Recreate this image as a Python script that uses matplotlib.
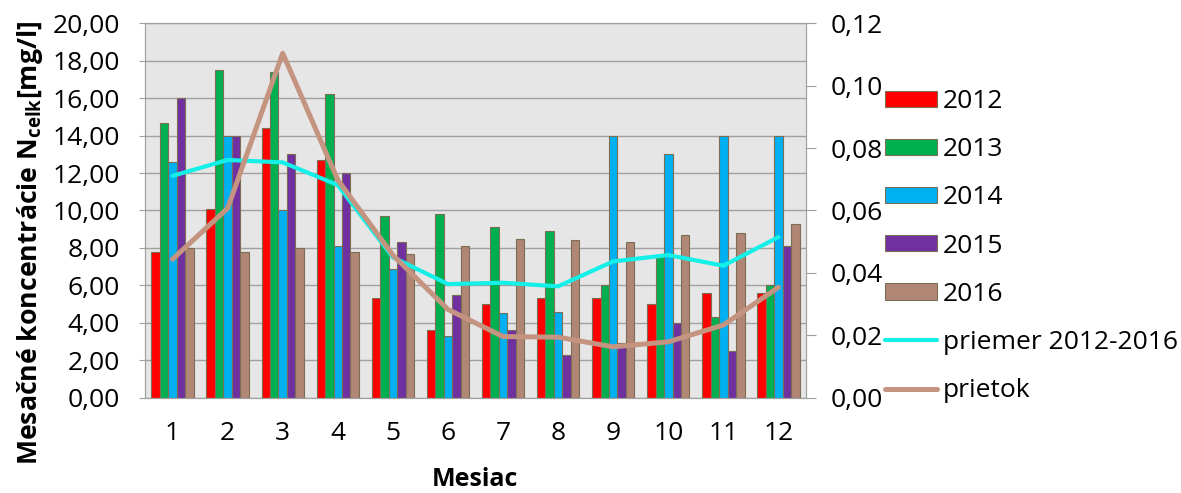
import numpy as np
import matplotlib
matplotlib.use("Agg")
import matplotlib.pyplot as plt

months = ["1", "2", "3", "4", "5", "6", "7", "8", "9", "10", "11", "12"]
years = ["2012", "2013", "2014", "2015", "2016"]

n2012 = [7.8, 10.1, 14.4, 12.7, 5.3, 3.6, 5.0, 5.35, 5.3, 5.0, 5.6, 5.6]
n2013 = [14.7, 17.5, 17.4, 16.2, 9.7, 9.8, 9.1, 8.9, 6.0, 7.5, 4.3, 6.0]
n2014 = [12.6, 14.0, 10.0, 8.1, 6.9, 3.3, 4.5, 4.6, 14.0, 13.0, 14.0, 14.0]
n2015 = [16.0, 14.0, 13.0, 12.0, 8.3, 5.5, 3.6, 2.3, 2.9, 4.0, 2.5, 8.1]
n2016 = [8.0, 7.8, 8.0, 7.8, 7.7, 8.1, 8.5, 8.4, 8.3, 8.7, 8.8, 9.3]
priemer = [11.85, 12.7, 12.57, 11.36, 7.5, 6.07, 6.14, 5.95, 7.28, 7.62, 7.05, 8.58]
prietok = [0.0444, 0.0607, 0.1104, 0.0698, 0.0457, 0.0283, 0.0196, 0.0194,
           0.0163, 0.0179, 0.0233, 0.0354]

left_ticks = ["0,00", "2,00", "4,00", "6,00", "8,00", "10,00", "12,00",
              "14,00", "16,00", "18,00", "20,00"]
right_ticks = ["0,00", "0,02", "0,04", "0,06", "0,08", "0,10", "0,12"]

bar_colors = ["#FF0000", "#00B050", "#00B0F0", "#7030A0", "#B08674"]
edge = "#7a6e55"

plt.rcParams["font.family"] = ["Open Sans", "DejaVu Sans"]
plt.rcParams["mathtext.fontset"] = "custom"
plt.rcParams["mathtext.bf"] = "Open Sans:bold"
plt.rcParams["mathtext.rm"] = "Open Sans:bold"

fig = plt.figure(figsize=(11.81, 4.93), dpi=100)
ax = fig.add_axes([145 / 1181, 1 - 397.7 / 493, 661 / 1181, 374.4 / 493])
ax.set_facecolor("#E6E6E6")

x = np.arange(len(months))
w = 0.1535
series = [n2012, n2013, n2014, n2015, n2016]
for i, (vals, col, lab) in enumerate(zip(series, bar_colors, years)):
    ax.bar(x + (i - 2) * w, vals, w, color=col, edgecolor=edge, linewidth=0.8,
           label=lab, zorder=2)

ax.plot(x, priemer, color="#14F0E8", lw=3.0, solid_capstyle="round",
        label="priemer 2012-2016", zorder=3)

ax.set_xlim(-0.5, 11.5)
ax.set_ylim(0, 20)
ax.set_yticks(np.arange(0, 21, 2))
ax.set_yticklabels(left_ticks)
ax.set_xticks(x)
ax.set_xticklabels(months)
ax.yaxis.grid(True, color="#A0A0A0", lw=1.0, zorder=0)
ax.set_axisbelow(True)
for s in ax.spines.values():
    s.set_color("#A0A0A0")
ax.tick_params(axis="y", length=4, color="#A0A0A0", pad=14, labelsize=19)
ax.tick_params(axis="x", length=0, pad=17, labelsize=19)

ax2 = ax.twinx()
ax2.plot(x, prietok, color="#C49480", lw=3.6, solid_capstyle="round",
         label="prietok", zorder=4)
ax2.set_ylim(0, 0.12)
ax2.set_yticks(np.arange(0, 0.121, 0.02))
ax2.set_yticklabels(right_ticks)
ax2.tick_params(axis="y", length=7, color="#A0A0A0", pad=11, labelsize=19)
for s in ax2.spines.values():
    s.set_color("#A0A0A0")

fig.text(30 / 1181, 1 - 243 / 493,
         "Mesačné koncentrácie N$_\\mathbf{celk}$[mg/l]",
         rotation=90, ha="center", va="center", fontsize=19.2, fontweight="bold")
fig.text(475 / 1181, 1 - 479 / 493, "Mesiac", ha="center", va="center",
         fontsize=18, fontweight="bold")

h1, l1 = ax.get_legend_handles_labels()
h2, l2 = ax2.get_legend_handles_labels()
handles = h1[1:] + h1[:1] + h2
labels = l1[1:] + l1[:1] + l2
fig.legend(handles, labels, loc="upper left",
           bbox_to_anchor=(885 / 1181, 1 - 89 / 493), frameon=False,
           fontsize=19, handlelength=1.97, handleheight=0.57,
           handletextpad=0.21, labelspacing=0.88, borderpad=0, borderaxespad=0)

fig.savefig("out.png", dpi=100)
